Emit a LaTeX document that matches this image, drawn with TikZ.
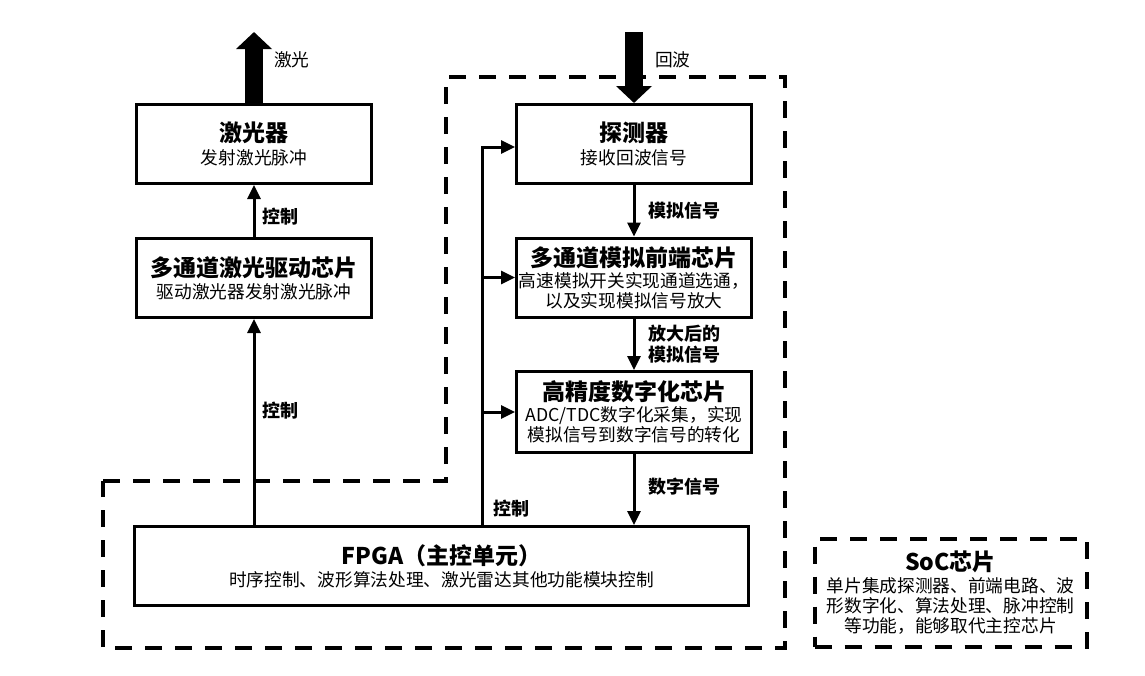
\documentclass[tikz,border=0pt]{standalone}
\usepackage{fontspec}
\setmainfont{Noto Sans CJK SC}
\usetikzlibrary{arrows.meta}
\newcommand\ttlf{\bfseries\fontsize{23}{25}\selectfont}
\newcommand\subf{\fontsize{17.7}{20}\selectfont}
\tikzset{
 box/.style={draw, line width=3pt, minimum width=235pt, minimum height=79pt, align=center, inner sep=0pt, font=\subf},
 conn/.style={line width=3pt, -{Triangle[width=13pt,length=14pt]}},
 bigarrow/.style={line width=18pt, -{Triangle[width=35pt,length=17pt]}},
 lbl/.style={font=\bfseries\fontsize{18}{21}\selectfont, anchor=west, align=left, inner sep=0pt},
 plainlbl/.style={font=\fontsize{17.7}{20}\selectfont, anchor=west, inner sep=0pt},
 dashbox/.style={line width=4pt, dash pattern=on 17pt off 13pt},
}
\begin{document}
\begin{tikzpicture}[x=1pt,y=-1pt]
\useasboundingbox[fill=white] (0,0) rectangle (1145,675);

% outer dashed L-shaped region
\draw[dashbox] (103,481) -- (446,481) -- (446,77) -- (785,77) -- (785,648) -- (103,648) -- cycle;

% boxes
\node[box] (laser) at (254,144) {{\ttlf 激光器}\\[3pt]发射激光脉冲};
\node[box] (driver) at (254,278) {{\ttlf 多通道激光驱动芯片}\\[2pt]驱动激光器发射激光脉冲};
\node[box] (det) at (634,144) {{\ttlf 探测器}\\[3pt]接收回波信号};
\node[box] (afe) at (634,277.5) {{\ttlf 多通道模拟前端芯片}\\[1pt]高速模拟开关实现通道选通，\\以及实现模拟信号放大};
\node[box, minimum height=81pt] (adc) at (634,412) {{\ttlf 高精度数字化芯片}\\[1pt]ADC/TDC数字化采集，实现\\模拟信号到数字信号的转化};
\node[box, minimum width=614pt] (fpga) at (441.5,566) {{\ttlf FPGA（主控单元）}\\[2pt]时序控制、波形算法处理、激光雷达其他功能模块控制};
\node[draw, dashbox, minimum width=272pt, minimum height=108pt, align=center, inner sep=0pt, font=\subf] (soc) at (950.5,592.5) {{\ttlf SoC芯片}\\[2pt]单片集成探测器、前端电路、波\\形数字化、算法处理、脉冲控制\\等功能，能够取代主控芯片};

% big arrows
\coordinate (laserout) at (254,32);
\coordinate (echoin) at (634,32);
\draw[bigarrow] (laser.north) -- (laserout);
\draw[bigarrow] (echoin) -- (det.north);
\node[plainlbl] (lblaser) at (274,60) {激光};
\node[plainlbl] (lbecho) at (655,60) {回波};

% left chain
\draw[conn] (driver.north) -- (laser.south);
\node[lbl] (lbc1) at (262,217) {控制};
\draw[conn] (fpga.north -| driver.south) -- (driver.south);
\node[lbl] (lbc2) at (262,411) {控制};

% right chain
\draw[conn] (det.south) -- (afe.north);
\node[lbl] (lbs1) at (648,211) {模拟信号};
\draw[conn] (afe.south) -- (adc.north);
\node[lbl] (lbs2) at (648,344) {放大后的\\模拟信号};
\draw[conn] (adc.south) -- (adc.south |- fpga.north);
\node[lbl] (lbs3) at (648,487) {数字信号};

% control bus
\coordinate (bus) at (482,566);
\draw[conn] (bus |- fpga.north) |- ([yshift=-3pt]det.west);
\draw[conn] (bus |- afe.west) -- (afe.west);
\draw[conn] (bus |- adc.west) -- (adc.west);
\node[lbl] (lbc3) at (493,509) {控制};
\end{tikzpicture}
\end{document}
